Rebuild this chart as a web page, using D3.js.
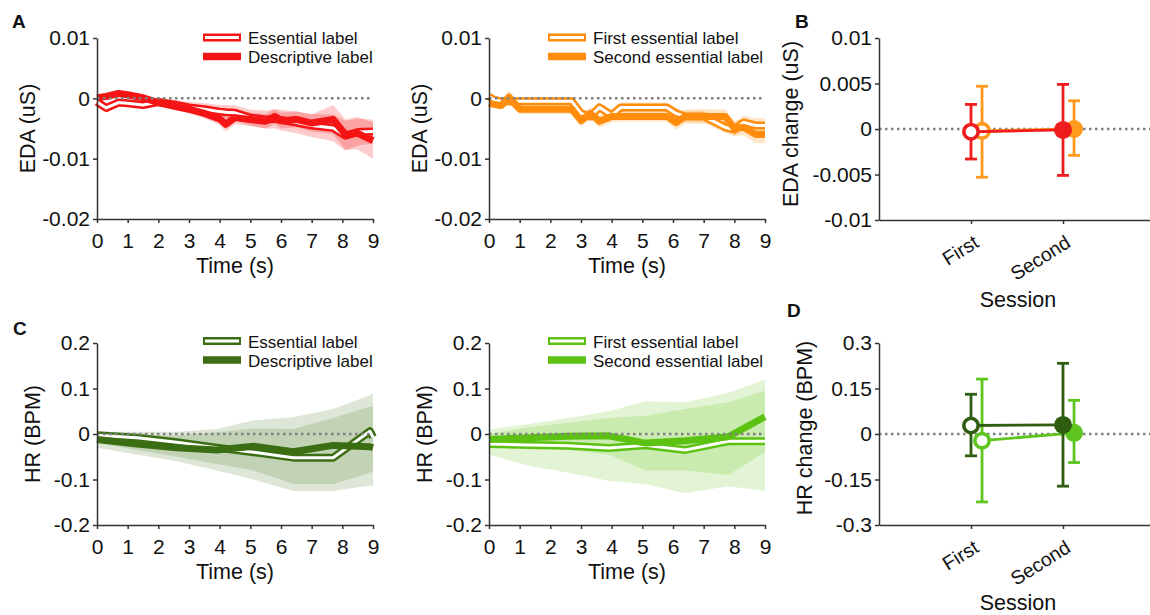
<!DOCTYPE html>
<html>
<head>
<meta charset="utf-8">
<script src="https://cdn.jsdelivr.net/npm/d3@7"></script>
<style>
  body { margin: 0; background: #fff; }
  svg { display: block; }
</style>
</head>
<body>
<div id="chart"></div>
<script>
// ---- EDA, essential vs descriptive (red) ----
const tRed = [0, 0.3, 0.7, 1, 1.5, 2, 2.5, 3, 3.5, 4, 4.2, 4.5, 5, 5.5, 5.8, 6, 6.5, 7, 7.7, 8.1, 8.5, 9];
const essRed = [-0.0006, -0.0016, -0.0007, -0.0008, -0.0011, -0.0006, -0.001, -0.0015, -0.0018, -0.0022, -0.0023, -0.0024, -0.0032, -0.0035, -0.0034, -0.0036, -0.004, -0.0045, -0.0049, -0.0062, -0.0056, -0.0055];
const descRed = [0.0001, 0.0003, 0.0008, 0.0006, 0.0001, -0.0007, -0.0013, -0.0018, -0.0025, -0.0034, -0.0043, -0.0032, -0.0035, -0.0038, -0.003, -0.0037, -0.0035, -0.0041, -0.0035, -0.006, -0.0058, -0.007];
const semEssRed = [0.0004, 0.0005, 0.0005, 0.0005, 0.0006, 0.0007, 0.0008, 0.0009, 0.001, 0.0011, 0.0012, 0.0012, 0.0013, 0.0015, 0.0016, 0.0017, 0.0018, 0.0019, 0.0022, 0.0025, 0.0022, 0.002];
const semDescRed = [0.0004, 0.0004, 0.0005, 0.0005, 0.0005, 0.0006, 0.0006, 0.0007, 0.0008, 0.001, 0.0012, 0.0011, 0.0011, 0.0012, 0.0012, 0.0013, 0.0013, 0.0014, 0.0024, 0.0025, 0.0027, 0.003];

// ---- EDA, first vs second essential (orange) ----
const tOr = [0, 0.15, 0.4, 0.65, 1, 2.7, 3.0, 3.3, 3.6, 4.0, 4.3, 5.8, 6.1, 6.4, 7.0, 7.7, 8.0, 8.3, 8.7, 9];
const firstOr = [0.0003, -0.0002, -0.0005, -0.0005, -0.0005, -0.0005, -0.0025, -0.003, -0.0015, -0.0028, -0.0015, -0.0015, -0.0025, -0.003, -0.003, -0.0048, -0.0052, -0.004, -0.0045, -0.0045];
const secondOr = [-0.0008, -0.001, -0.0012, 0.0002, -0.0018, -0.0018, -0.0037, -0.0025, -0.0038, -0.003, -0.003, -0.003, -0.004, -0.003, -0.003, -0.003, -0.005, -0.0048, -0.006, -0.006];
const semFirstOr = [0.0004, 0.0004, 0.0005, 0.0008, 0.0006, 0.0006, 0.0007, 0.0008, 0.0008, 0.0008, 0.0008, 0.0008, 0.0009, 0.0009, 0.001, 0.001, 0.0011, 0.0011, 0.0012, 0.0012];
const semSecondOr = [0.0004, 0.0005, 0.0006, 0.0012, 0.0008, 0.0008, 0.001, 0.001, 0.001, 0.001, 0.0009, 0.0009, 0.0012, 0.0012, 0.0012, 0.0012, 0.0013, 0.0013, 0.0014, 0.0015];

// ---- HR, essential vs descriptive (dark green) ----
const tDk = [0, 1.3, 2.6, 3.9, 5.1, 6.4, 7.7, 8.9, 9];
const essDk = [-0.003, -0.008, -0.018, -0.03, -0.04, -0.052, -0.052, 0.006, -0.007];
const descDk = [-0.012, -0.022, -0.03, -0.035, -0.027, -0.039, -0.025, -0.028, -0.03];
const essDkHi = [0.005, 0.005, 0.005, 0.011, 0.03, 0.037, 0.055, 0.085, 0.09];
const essDkLo = [-0.02, -0.035, -0.05, -0.066, -0.08, -0.11, -0.11, -0.085, -0.08];
const descDkHi = [0.0, -0.003, -0.003, 0.004, 0.012, 0.011, 0.035, 0.06, 0.06];
const descDkLo = [-0.03, -0.045, -0.06, -0.08, -0.1, -0.125, -0.125, -0.113, -0.115];

// ---- HR, first vs second essential (light green) ----
const tLt = [0, 1.3, 2.6, 3.9, 5.1, 6.4, 7.8, 9];
const firstLt = [-0.022, -0.024, -0.026, -0.031, -0.025, -0.035, -0.016, -0.016];
const secondLt = [-0.012, -0.008, -0.005, -0.004, -0.02, -0.015, -0.006, 0.038];
const firstLtHi = [0.0, 0.015, 0.025, 0.035, 0.04, 0.055, 0.07, 0.095];
const firstLtLo = [-0.045, -0.07, -0.085, -0.103, -0.11, -0.13, -0.115, -0.125];
const secondLtHi = [0.01, 0.022, 0.035, 0.05, 0.072, 0.07, 0.09, 0.12];
const secondLtLo = [-0.025, -0.025, -0.035, -0.045, -0.08, -0.08, -0.09, -0.04];

// ---- session summaries (B, D) ----
const sessions = ['First', 'Second'];
const edaRedMean = [-0.0003, -0.0001], edaRedLo = [-0.0033, -0.0051], edaRedHi = [0.0027, 0.0049];
const edaOrMean = [-0.0002, 0], edaOrLo = [-0.0053, -0.0029], edaOrHi = [0.0047, 0.0031];
const hrDkMean = [0.028, 0.03], hrDkLo = [-0.072, -0.172], hrDkHi = [0.131, 0.233];
const hrLtMean = [-0.022, 0.004], hrLtLo = [-0.224, -0.094], hrLtHi = [0.181, 0.111];

const timeTicks = [0, 1, 2, 3, 4, 5, 6, 7, 8, 9];
const edaTicks = [0.01, 0, -0.01, -0.02];
const hrTicks = [0.2, 0.1, 0, -0.1, -0.2];
const edaChangeTicks = [0.01, 0.005, 0, -0.005, -0.01];
const hrChangeTicks = [0.3, 0.15, 0, -0.15, -0.3];

const FONT = '"Liberation Sans", Arial, Helvetica, sans-serif';
const RED = '#f41414', ORANGE = '#ff8c0a', DARK = '#3b6e12', LIGHT = '#5cc212';
const fmt = d => d === 0 ? '0' : String(d);

const svg = d3.select('#chart').append('svg')
    .attr('width', 1150).attr('height', 615)
    .style('font-family', FONT);
svg.append('rect').attr('width', 1150).attr('height', 615).attr('fill', '#fff');

function styleAxis(g, size) {
    g.attr('font-family', FONT).attr('font-size', size || 21);
    g.select('.domain').attr('stroke', '#333').attr('stroke-width', 1.5);
    g.selectAll('.tick line').attr('stroke', '#333').attr('stroke-width', 1.5);
    g.selectAll('.tick text').attr('fill', '#111');
}

function timePanel(cfg) {
    const x = d3.scaleLinear().domain([0, 9]).range([cfg.left, cfg.left + 276]);
    const y = d3.scaleLinear().domain(cfg.yDomain).range([cfg.bottom, cfg.top]);
    const g = svg.append('g');

    cfg.series.forEach(s => {
        const area = d3.area()
            .x((d, i) => x(s.t[i]))
            .y0((d, i) => y(s.lo[i]))
            .y1((d, i) => y(s.hi[i]));
        g.append('path').datum(s.t).attr('d', area)
            .attr('fill', s.color).attr('fill-opacity', cfg.bandOpacity || 0.22);
    });

    // hollow lines first, solid drawn over them
    cfg.series.slice().sort((a, b) => (b.hollow ? 1 : 0) - (a.hollow ? 1 : 0)).forEach(s => {
        const line = d3.line().x((d, i) => x(s.t[i])).y(d => y(d));
        g.append('path').datum(s.mean).attr('d', line)
            .attr('fill', 'none').attr('stroke', s.color)
            .attr('stroke-width', s.hollow ? 8 : 7).attr('stroke-linejoin', 'round');
        if (s.hollow) {
            g.append('path').datum(s.mean).attr('d', line)
                .attr('fill', 'none').attr('stroke', '#fff')
                .attr('stroke-width', 3).attr('stroke-linejoin', 'round');
        }
    });

    g.append('line')
        .attr('x1', x(0)).attr('x2', x(9)).attr('y1', y(0)).attr('y2', y(0))
        .attr('stroke', '#808080').attr('stroke-width', 2.5).attr('stroke-dasharray', '2.5,3.5');

    const ya = g.append('g').attr('transform', `translate(${cfg.left},0)`)
        .call(d3.axisLeft(y).tickValues(cfg.yTicks).tickFormat(fmt).tickSize(4).tickSizeOuter(0).tickPadding(3));
    styleAxis(ya);
    const xa = g.append('g').attr('transform', `translate(0,${cfg.bottom})`)
        .call(d3.axisBottom(x).tickValues(timeTicks).tickFormat(d3.format('d')).tickSize(4).tickSizeOuter(0).tickPadding(10));
    styleAxis(xa);

    g.append('text').attr('transform', `translate(${cfg.left - cfg.titleOff},${(cfg.top + cfg.bottom) / 2}) rotate(-90)`)
        .attr('text-anchor', 'middle').attr('font-size', 21.5).attr('fill', '#111').text(cfg.yTitle);
    g.append('text').attr('x', x(4.5)).attr('y', cfg.bottom + 54)
        .attr('text-anchor', 'middle').attr('font-size', 21.5).attr('fill', '#111').text('Time (s)');

    // legend
    const lg = g.append('g');
    const lx1 = cfg.legX, lx2 = cfg.legX + 38;
    cfg.series.forEach((s, i) => {
        const ly = cfg.legY + i * 19;
        lg.append('line').attr('x1', lx1).attr('x2', lx2).attr('y1', ly).attr('y2', ly)
            .attr('stroke', s.color).attr('stroke-width', s.hollow ? 8 : 7.5);
        if (s.hollow) {
            lg.append('line').attr('x1', lx1 + 2).attr('x2', lx2 - 2).attr('y1', ly).attr('y2', ly)
                .attr('stroke', '#fff').attr('stroke-width', 3);
        }
        lg.append('text').attr('x', lx2 + 7).attr('y', ly + 6.5)
            .attr('font-size', 17).attr('fill', '#111').text(s.label);
    });
}

function sessionPanel(cfg) {
    const x = d3.scaleLinear().domain([0, 3]).range([879, 1155]);
    const y = d3.scaleLinear().domain(cfg.yDomain).range([cfg.bottom, cfg.top]);
    const g = svg.append('g');

    g.append('line')
        .attr('x1', x(0)).attr('x2', x(3)).attr('y1', y(0)).attr('y2', y(0))
        .attr('stroke', '#808080').attr('stroke-width', 2.5).attr('stroke-dasharray', '2.5,3.5');

    cfg.groups.forEach(s => {
        const xs = sessions.map((d, i) => x(i + 1 + s.shift));
        sessions.forEach((d, i) => {
            const gx = xs[i];
            g.append('line').attr('x1', gx).attr('x2', gx).attr('y1', y(s.lo[i])).attr('y2', y(s.hi[i]))
                .attr('stroke', s.color).attr('stroke-width', 2.8);
            [s.lo[i], s.hi[i]].forEach(v => {
                g.append('line').attr('x1', gx - 6).attr('x2', gx + 6).attr('y1', y(v)).attr('y2', y(v))
                    .attr('stroke', s.color).attr('stroke-width', 2.8);
            });
        });
        g.append('line').attr('x1', xs[0]).attr('x2', xs[1])
            .attr('y1', y(s.mean[0])).attr('y2', y(s.mean[1]))
            .attr('stroke', s.color).attr('stroke-width', 2.8);
        g.append('circle').attr('cx', xs[0]).attr('cy', y(s.mean[0])).attr('r', 7.2)
            .attr('fill', '#fff').attr('stroke', s.color).attr('stroke-width', 3.6);
        g.append('circle').attr('cx', xs[1]).attr('cy', y(s.mean[1])).attr('r', 9)
            .attr('fill', s.color);
    });

    const ya = g.append('g').attr('transform', 'translate(879,0)')
        .call(d3.axisLeft(y).tickValues(cfg.yTicks).tickFormat(fmt).tickSize(4).tickSizeOuter(0).tickPadding(3));
    styleAxis(ya);
    const xa = g.append('g').attr('transform', `translate(0,${cfg.bottom})`)
        .call(d3.axisBottom(x).tickValues([1, 2]).tickFormat('').tickSize(4).tickSizeOuter(0));
    styleAxis(xa);
    sessions.forEach((d, i) => {
        g.append('text').attr('transform', `translate(${x(i + 1) + 9},${cfg.bottom + 26}) rotate(-32)`)
            .attr('text-anchor', 'end').attr('font-size', 19.5).attr('fill', '#111').text(d);
    });

    g.append('text').attr('transform', `translate(${879 - cfg.titleOff},${cfg.titleY}) rotate(-90)`)
        .attr('text-anchor', 'middle').attr('font-size', 21.5).attr('fill', '#111').text(cfg.yTitle);
    g.append('text').attr('x', 1018).attr('y', Math.min(cfg.bottom + 87, 610))
        .attr('text-anchor', 'middle').attr('font-size', 21.5).attr('fill', '#111').text('Session');
}

timePanel({
    left: 97, top: 38, bottom: 219, yDomain: [-0.02, 0.01], yTicks: edaTicks,
    yTitle: 'EDA (uS)', titleOff: 62, legX: 203, legY: 37.5,
    series: [
        { t: tRed, mean: essRed, lo: essRed.map((v, i) => v - semEssRed[i]), hi: essRed.map((v, i) => v + semEssRed[i]), color: RED, hollow: true, label: 'Essential label' },
        { t: tRed, mean: descRed, lo: descRed.map((v, i) => v - semDescRed[i]), hi: descRed.map((v, i) => v + semDescRed[i]), color: RED, hollow: false, label: 'Descriptive label' }
    ]
});
timePanel({
    left: 489, top: 38, bottom: 219, yDomain: [-0.02, 0.01], yTicks: edaTicks,
    yTitle: 'EDA (uS)', titleOff: 62, legX: 548, legY: 37.5,
    series: [
        { t: tOr, mean: firstOr, lo: firstOr.map((v, i) => v - semFirstOr[i]), hi: firstOr.map((v, i) => v + semFirstOr[i]), color: ORANGE, hollow: true, label: 'First essential label' },
        { t: tOr, mean: secondOr, lo: secondOr.map((v, i) => v - semSecondOr[i]), hi: secondOr.map((v, i) => v + semSecondOr[i]), color: ORANGE, hollow: false, label: 'Second essential label' }
    ]
});
timePanel({
    left: 97, top: 343, bottom: 525, yDomain: [-0.2, 0.2], yTicks: hrTicks,
    yTitle: 'HR (BPM)', titleOff: 57, legX: 203, legY: 341, bandOpacity: 0.17,
    series: [
        { t: tDk, mean: essDk, lo: essDkLo, hi: essDkHi, color: DARK, hollow: true, label: 'Essential label' },
        { t: tDk, mean: descDk, lo: descDkLo, hi: descDkHi, color: DARK, hollow: false, label: 'Descriptive label' }
    ]
});
timePanel({
    left: 489, top: 343, bottom: 525, yDomain: [-0.2, 0.2], yTicks: hrTicks,
    yTitle: 'HR (BPM)', titleOff: 57, legX: 548, legY: 341, bandOpacity: 0.18,
    series: [
        { t: tLt, mean: firstLt, lo: firstLtLo, hi: firstLtHi, color: LIGHT, hollow: true, label: 'First essential label' },
        { t: tLt, mean: secondLt, lo: secondLtLo, hi: secondLtHi, color: LIGHT, hollow: false, label: 'Second essential label' }
    ]
});

sessionPanel({
    top: 38, bottom: 220, yDomain: [-0.01, 0.01], yTicks: edaChangeTicks,
    yTitle: 'EDA change (uS)', titleOff: 81, titleY: 124,
    groups: [
        { mean: edaOrMean, lo: edaOrLo, hi: edaOrHi, color: '#ff9a1e', shift: 0.12 },
        { mean: edaRedMean, lo: edaRedLo, hi: edaRedHi, color: '#ee1c1c', shift: 0 }
    ]
});
sessionPanel({
    top: 343, bottom: 525, yDomain: [-0.3, 0.3], yTicks: hrChangeTicks,
    yTitle: 'HR change (BPM)', titleOff: 67, titleY: 428,
    groups: [
        { mean: hrLtMean, lo: hrLtLo, hi: hrLtHi, color: '#5ec41e', shift: 0.12 },
        { mean: hrDkMean, lo: hrDkLo, hi: hrDkHi, color: '#2f5e12', shift: 0 }
    ]
});

// panel letters
[['A', 12, 28], ['B', 795, 28], ['C', 13, 335], ['D', 787, 317]].forEach(([s, x, y]) => {
    svg.append('text').attr('x', x).attr('y', y).attr('font-size', 19)
        .attr('font-weight', 'bold').attr('fill', '#111').text(s);
});
</script>
</body>
</html>
